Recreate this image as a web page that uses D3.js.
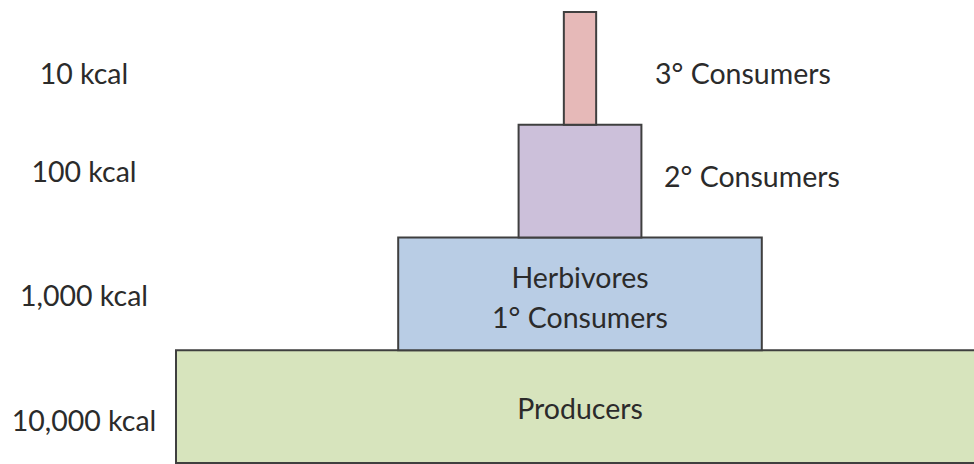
<!DOCTYPE html>
<html>
<head>
<meta charset="utf-8">
<script src="https://cdn.jsdelivr.net/npm/d3@7"></script>
<style>
  body { margin: 0; background: #fff; }
  text { font-family: Lato, "Open Sans", sans-serif; fill: #2b2b2b; }
</style>
</head>
<body>
<div id="wrapper"></div>
<script>
// trophic levels, bottom to top
const levels = ["Producers", "1° Consumers", "2° Consumers", "3° Consumers"];
const energy = ["10,000 kcal", "1,000 kcal", "100 kcal", "10 kcal"];
const relWidth = [100, 45, 15.2, 4];   // relative width of each block
const fills = ["#d7e4bd", "#b9cde5", "#ccc0da", "#e6b9b8"];

function buildPlot(){
    const dimension = {
        width: 974,
        height: 464,
        margin: { top: 12, bottom: 1 }
    };
    const cx = 580;
    const fontSize = "28.5px";

    const svg = d3.select("#wrapper").append("svg")
        .attr("width", dimension.width)
        .attr("height", dimension.height);

    const y_scale = d3.scaleBand()
        .domain(levels)
        .range([dimension.height - dimension.margin.bottom, dimension.margin.top])
        .paddingInner(0);

    const w_scale = d3.scaleLinear().domain([0, 100]).range([0, 808]);

    const rows = levels.map((d, i) => ({name: d, kcal: energy[i], w: relWidth[i], fill: fills[i], i: i}));

    svg.selectAll("rect.level")
        .data(rows)
        .join("rect")
        .attr("class", "level")
        .attr("x", d => cx - w_scale(d.w) / 2)
        .attr("y", d => y_scale(d.name))
        .attr("width", d => w_scale(d.w))
        .attr("height", y_scale.bandwidth())
        .attr("fill", d => d.fill)
        .attr("stroke", "#3f3f3f")
        .attr("stroke-width", 2);

    // kcal labels on the left
    const kcalDy = [17, 5, -6, 8];
    svg.selectAll("text.kcal")
        .data(rows)
        .join("text")
        .attr("class", "kcal")
        .attr("x", 84)
        .attr("y", d => y_scale(d.name) + y_scale.bandwidth() / 2 + kcalDy[d.i])
        .attr("text-anchor", "middle")
        .attr("dominant-baseline", "middle")
        .style("font-size", fontSize)
        .text(d => d.kcal);

    // labels inside the two wide blocks
    const prod = rows[0];
    svg.append("text")
        .attr("x", cx)
        .attr("y", y_scale(prod.name) + y_scale.bandwidth() / 2 + 5)
        .attr("text-anchor", "middle")
        .attr("dominant-baseline", "middle")
        .style("font-size", fontSize)
        .text(prod.name);

    const herb = rows[1];
    const hy = y_scale(herb.name) + y_scale.bandwidth() / 2;
    svg.append("text")
        .attr("x", cx)
        .attr("y", hy - 13)
        .attr("text-anchor", "middle")
        .attr("dominant-baseline", "middle")
        .style("font-size", fontSize)
        .text("Herbivores");
    svg.append("text")
        .attr("x", cx)
        .attr("y", hy + 27)
        .attr("text-anchor", "middle")
        .attr("dominant-baseline", "middle")
        .style("font-size", fontSize)
        .text(herb.name);

    // labels to the right of the narrow blocks
    const sideX = {2: cx + 84, 3: cx + 75};
    const sideDy = {2: -1, 3: 8};
    svg.selectAll("text.side")
        .data(rows.filter(d => d.i >= 2))
        .join("text")
        .attr("class", "side")
        .attr("x", d => sideX[d.i])
        .attr("y", d => y_scale(d.name) + y_scale.bandwidth() / 2 + sideDy[d.i])
        .attr("dominant-baseline", "middle")
        .style("font-size", fontSize)
        .text(d => d.name);
}
buildPlot();
</script>
</body>
</html>
